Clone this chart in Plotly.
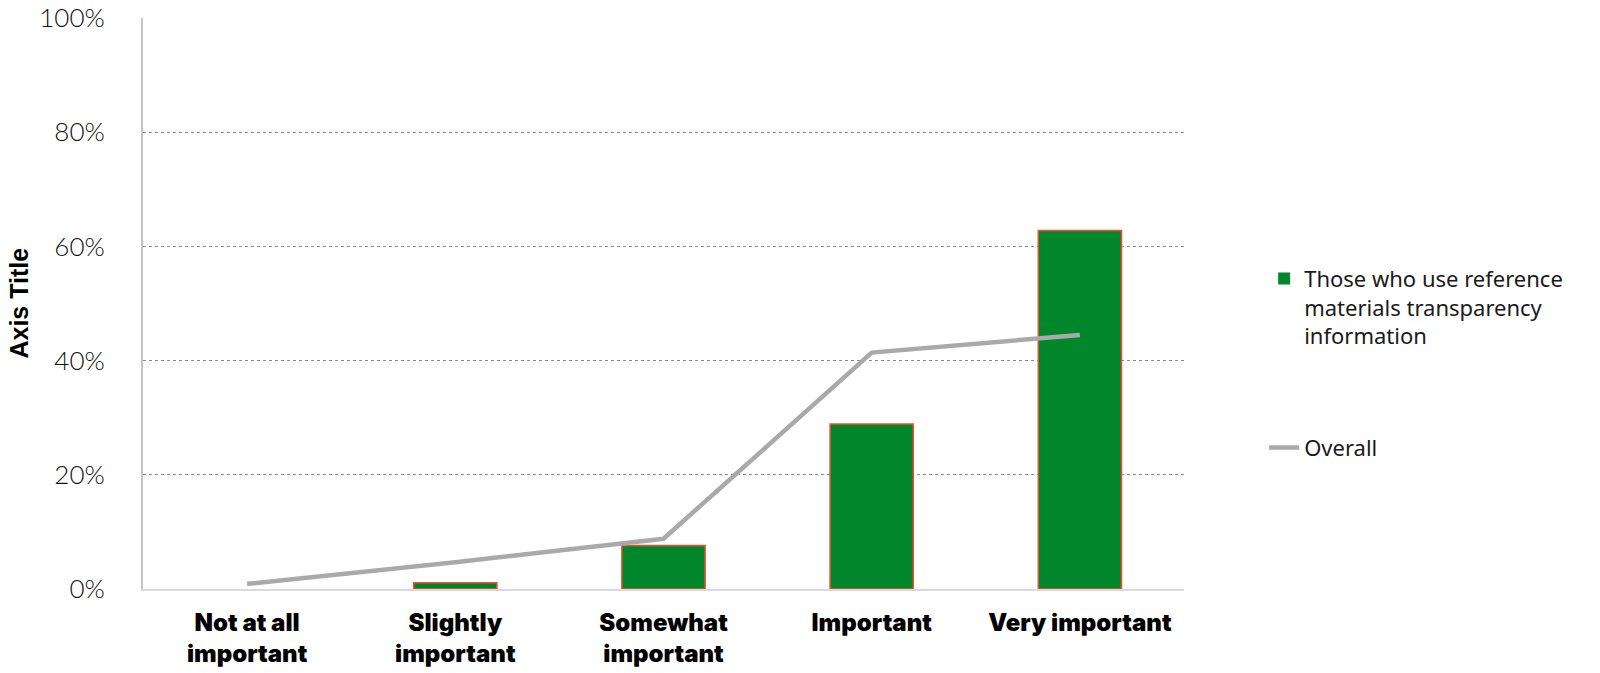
import plotly.graph_objects as go

# Importance ratings
categories = ["Not at all<br>important", "Slightly<br>important", "Somewhat<br>important",
              "Important", "Very important"]
users_share = [0.0, 1.1, 7.6, 28.9, 62.8]      # % of those who use reference materials transparency info
overall_share = [0.9, 4.7, 8.8, 41.4, 44.5]    # % overall
y_ticks = [0, 20, 40, 60, 80, 100]
y_tick_text = [f"{v}%" for v in y_ticks]

# no outline on empty bars
outline_widths = [0 if v == 0 else 1.5 for v in users_share]

fig = go.Figure()
fig.add_trace(go.Bar(
    x=categories, y=users_share,
    name="Those who use reference<br>materials transparency<br>information",
    marker=dict(color="#00872B", line=dict(color="#F04E37", width=outline_widths)),
    width=0.4, legendgroup="a",
))
fig.add_trace(go.Scatter(
    x=categories, y=overall_share, mode="lines", name="Overall",
    line=dict(color="#A9A9A9", width=4.5), legendgroup="b",
))

fig.update_layout(
    width=1600, height=673,
    margin=dict(l=143, r=416, t=18, b=84),
    plot_bgcolor="white", paper_bgcolor="white",
    bargap=0.6,
    showlegend=True,
    legend=dict(x=1.077, y=0.58, xanchor="left", yanchor="top", valign="top",
                font=dict(family="Noto Sans, Lato, sans-serif", size=22, color="#1a1a1a"),
                tracegroupgap=80, itemwidth=30, bgcolor="rgba(0,0,0,0)"),
    annotations=[dict(text="<b>Axis Title</b>", xref="paper", yref="paper",
                      x=-0.12, y=0.5, xanchor="center", yanchor="middle",
                      textangle=-90, showarrow=False,
                      font=dict(family="Liberation Sans, Arial, sans-serif", size=25, color="black"))],
)
fig.update_yaxes(
    range=[0, 100], tickvals=y_ticks, ticktext=y_tick_text,
    showgrid=True, gridcolor="#888888", griddash="dot", gridwidth=1,
    zeroline=False, showline=True, linecolor="#C4C4C4", linewidth=2,
    ticks="", ticklabelstandoff=31, ticklabeloverflow="allow", automargin=False,
    tickfont=dict(family="Lato, sans-serif", size=26, color="#111111", weight=300),
)
fig.update_xaxes(
    showline=True, linecolor="#DADADA", linewidth=2, showgrid=False, ticks="",
    ticklabelstandoff=11, ticklabeloverflow="allow", automargin=False,
    tickfont=dict(family="Inter, Lato, sans-serif", size=24, color="black", weight=900),
)
fig.write_html("out.html")
